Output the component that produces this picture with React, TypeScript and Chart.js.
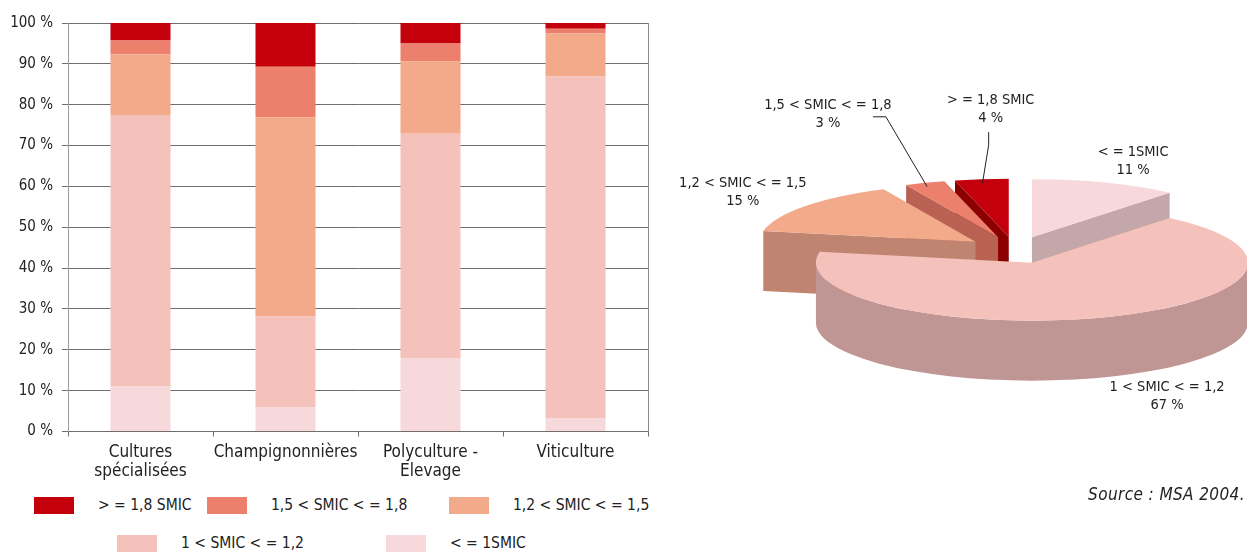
import React, { useEffect, useRef } from "react";
import { Chart, registerables } from "chart.js";

Chart.register(...registerables);

// ---------- Data ----------
const categories: (string | string[])[] = [
  ["Cultures", "spécialisées"],
  "Champignonnières",
  ["Polyculture -", "Elevage"],
  "Viticulture",
];
const seriesNames = [
  "< = 1SMIC",
  "1 < SMIC < = 1,2",
  "1,2 < SMIC < = 1,5",
  "1,5 < SMIC < = 1,8",
  "> = 1,8 SMIC",
];
const le1Smic = [11.0, 5.9, 18.0, 3.2];
const s1to12 = [66.5, 22.3, 54.9, 83.7];
const s12to15 = [14.8, 48.7, 17.7, 10.5];
const s15to18 = [3.4, 12.4, 4.4, 1.2];
const ge18 = [4.3, 10.7, 5.0, 1.4];
const seriesValues = [le1Smic, s1to12, s12to15, s15to18, ge18];

const pieLabels = ["< = 1SMIC", "1 < SMIC < = 1,2", "1,2 < SMIC < = 1,5", "1,5 < SMIC < = 1,8", "> = 1,8 SMIC"];
const pieValues = [11, 67, 15, 3, 4];

const sourceText = "Source : MSA 2004.";

// ---------- Styles ----------
const FONT = "'DejaVu Sans Condensed', 'DejaVu Sans', sans-serif";
const TEXT = "#222222";
const topColors = ["#f8d9db", "#f5c1bb", "#f2aa8b", "#ed7f6d", "#c3000c"];
const pieSideColors = ["#c4a7a9", "#c09694", "#bf8570", "#b96254", "#8b0000"];
const legendOrder = [4, 3, 2, 1, 0];
const legendPos = [
  [34, 505],
  [207, 505],
  [449, 505],
  [117, 543],
  [386, 543],
];
// label placement relative to the slice rim (mid angle)
const pieLabelOffsets = [
  [28, -22],
  [62, 79],
  [-62, -14],
  [-97, -69],
  [9, -70],
];
const pieLeaders: (number[][] | null)[] = [null, null, null, [[45, 3], [58, 3]], [[-2, 23], [-2, 36]]];

const rightBorder = {
  id: "rightBorder",
  afterDraw(chart: any) {
    const { ctx, chartArea } = chart;
    ctx.save();
    ctx.strokeStyle = "#8a8a8a";
    ctx.lineWidth = 1;
    ctx.beginPath();
    const x = Math.round(chartArea.right) + 0.5;
    ctx.moveTo(x, chartArea.top);
    ctx.lineTo(x, chartArea.bottom);
    ctx.stroke();
    ctx.restore();
  },
};

const pie3d = {
  id: "pie3d",
  beforeDatasetsDraw(chart: any, _args: any, opts: any) {
    const ctx: CanvasRenderingContext2D = chart.ctx;
    const meta = chart.getDatasetMeta(0);
    const ds = chart.data.datasets[0];
    const { tilt, depth, explode } = opts;
    const slices = meta.data.map((arc: any, i: number) => {
      const p = arc.getProps(["x", "y", "startAngle", "endAngle", "outerRadius"], true);
      const mid = (p.startAngle + p.endAngle) / 2;
      const R = p.outerRadius;
      const ry = R * tilt;
      const cx = p.x + explode * Math.cos(mid);
      const cy = p.y + explode * tilt * Math.sin(mid);
      return { i, a0: p.startAngle, a1: p.endAngle, mid, R, ry, cx, cy };
    });
    const order = [...slices].sort((a: any, b: any) => Math.sin(a.mid) - Math.sin(b.mid));
    ctx.save();
    for (const s of order) {
      ctx.fillStyle = opts.sideColors[s.i];
      const face = (a: number) => {
        const ex = s.cx + s.R * Math.cos(a);
        const ey = s.cy + s.ry * Math.sin(a);
        ctx.beginPath();
        ctx.moveTo(s.cx, s.cy);
        ctx.lineTo(ex, ey);
        ctx.lineTo(ex, ey + depth);
        ctx.lineTo(s.cx, s.cy + depth);
        ctx.closePath();
        ctx.fill();
      };
      if (Math.cos(s.a0) < -1e-6) face(s.a0);
      if (Math.cos(s.a1) > 1e-6) face(s.a1);
      const w0 = Math.max(s.a0, 0);
      const w1 = Math.min(s.a1, Math.PI);
      if (w1 > w0) {
        ctx.beginPath();
        ctx.ellipse(s.cx, s.cy, s.R, s.ry, 0, w0, w1, false);
        ctx.ellipse(s.cx, s.cy + depth, s.R, s.ry, 0, w1, w0, true);
        ctx.closePath();
        ctx.fill();
      }
      ctx.fillStyle = ds.backgroundColor[s.i];
      ctx.beginPath();
      ctx.moveTo(s.cx, s.cy);
      ctx.ellipse(s.cx, s.cy, s.R, s.ry, 0, s.a0, s.a1, false);
      ctx.closePath();
      ctx.fill();
    }
    // labels
    ctx.font = `14.5px ${FONT}`;
    ctx.fillStyle = TEXT;
    ctx.textAlign = "center";
    ctx.textBaseline = "middle";
    ctx.strokeStyle = "#222222";
    ctx.lineWidth = 1;
    for (const s of slices) {
      const rx = s.cx + s.R * Math.cos(s.mid);
      const ry = s.cy + s.ry * Math.sin(s.mid);
      const off = opts.labelOffsets[s.i];
      const lx = rx + off[0];
      const ly = ry + off[1];
      ctx.fillText(chart.data.labels[s.i], lx, ly - 9);
      ctx.fillText(`${ds.data[s.i]} %`, lx, ly + 9);
      const leader = opts.leaders[s.i];
      if (leader) {
        ctx.beginPath();
        leader.forEach((pt: number[], k: number) => {
          if (k === 0) ctx.moveTo(lx + pt[0], ly + pt[1]);
          else ctx.lineTo(lx + pt[0], ly + pt[1]);
        });
        ctx.lineTo(s.cx + s.R * 0.97 * Math.cos(s.mid), s.cy + s.ry * 0.93 * Math.sin(s.mid));
        ctx.stroke();
      }
    }
    ctx.restore();
    return false;
  },
};

export default function App() {
  const barRef = useRef<HTMLCanvasElement>(null);
  const pieRef = useRef<HTMLCanvasElement>(null);

  useEffect(() => {
    const bar = new Chart(barRef.current!, {
      type: "bar",
      data: {
        labels: categories as any,
        datasets: seriesValues.map((vals, i) => ({
          label: seriesNames[i],
          data: vals,
          backgroundColor: topColors[i],
          borderWidth: 0,
          barPercentage: 0.414,
          categoryPercentage: 1,
        })),
      },
      options: {
        animation: false,
        responsive: true,
        maintainAspectRatio: false,
        layout: { padding: { left: 0, right: 12, top: 23, bottom: 0 } },
        plugins: { legend: { display: false }, tooltip: { enabled: false } },
        scales: {
          x: {
            stacked: true,
            grid: { offset: true, drawOnChartArea: false, tickLength: 5, color: "#6e6e6e" },
            border: { color: "#6e6e6e" },
            ticks: { font: { family: FONT, size: 17, lineHeight: 1.15 }, color: TEXT, padding: 6, maxRotation: 0, autoSkip: false },
            afterFit: (s: any) => {
              s.height = 58.5;
            },
          },
          y: {
            stacked: true,
            min: 0,
            max: 100,
            ticks: {
              stepSize: 10,
              callback: (v: any) => `${v} %`,
              font: { family: FONT, size: 15 },
              color: TEXT,
              padding: 9,
            },
            grid: { color: "#6e6e6e", tickLength: 6 },
            border: { color: "#9a9aa6" },
            afterFit: (s: any) => {
              s.width = 68;
            },
          },
        },
      } as any,
      plugins: [rightBorder],
    });

    const pie = new Chart(pieRef.current!, {
      type: "pie",
      data: {
        labels: pieLabels,
        datasets: [
          {
            data: pieValues,
            backgroundColor: [topColors[0], topColors[1], topColors[2], topColors[3], topColors[4]],
            borderWidth: 0,
            clip: false,
          } as any,
        ],
      },
      options: {
        animation: false,
        responsive: true,
        maintainAspectRatio: false,
        radius: 216,
        layout: { padding: { left: 123, right: 0, top: 0, bottom: 52 } },
        plugins: {
          legend: { display: false },
          tooltip: { enabled: false },
          pie3d: {
            tilt: 0.2685,
            depth: 60,
            explode: 50,
            sideColors: pieSideColors,
            labelOffsets: pieLabelOffsets,
            leaders: pieLeaders,
          },
        },
      } as any,
      plugins: [pie3d],
    });

    return () => {
      bar.destroy();
      pie.destroy();
    };
  }, []);

  return (
    <div style={{ position: "absolute", left: 0, top: 0, width: 1247, height: 552, overflow: "hidden", background: "#fff", fontFamily: FONT, color: TEXT }}>
      <div style={{ position: "absolute", left: 0, top: 0, width: 660, height: 490 }}>
        <canvas ref={barRef} />
      </div>
      <div style={{ position: "absolute", left: 660, top: 0, width: 587, height: 552 }}>
        <canvas ref={pieRef} />
      </div>
      {legendOrder.map((si, k) => (
        <div
          key={si}
          style={{
            position: "absolute",
            left: legendPos[k][0],
            top: legendPos[k][1] - 10,
            height: 20,
            display: "flex",
            alignItems: "center",
            fontSize: 15.5,
            whiteSpace: "nowrap",
          }}
        >
          <span style={{ display: "inline-block", width: 40, height: 17, background: topColors[si], marginRight: 24 }} />
          <span>{seriesNames[si]}</span>
        </div>
      ))}
      <div style={{ position: "absolute", right: 2, top: 484, fontSize: 17, letterSpacing: 0.4, fontStyle: "italic", whiteSpace: "nowrap" }}>
        {sourceText}
      </div>
    </div>
  );
}
